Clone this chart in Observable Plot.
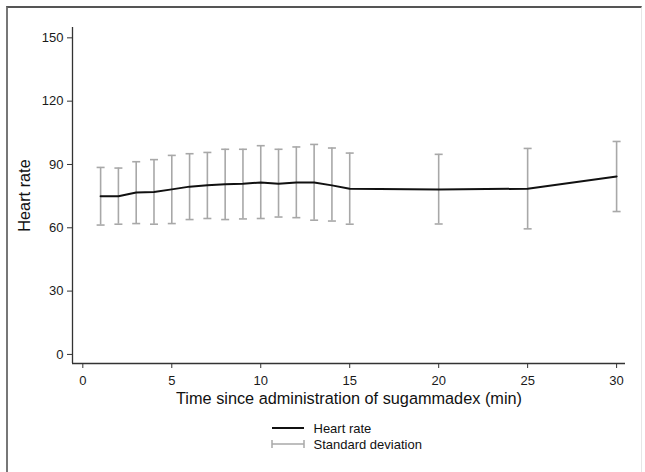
<!DOCTYPE html>
<html>
<head>
<meta charset="utf-8">
<script src="https://cdn.jsdelivr.net/npm/d3@7"></script>
<script src="https://cdn.jsdelivr.net/npm/@observablehq/plot@0.6"></script>
<style>
  html, body { margin: 0; padding: 0; background: #fff; }
  #wrap { position: relative; width: 645px; height: 472px; overflow: hidden; font-family: "Liberation Sans", Arial, sans-serif; }
  #border { position: absolute; left: 6px; top: 6px; width: 636px; height: 470px; border-top: 2px solid #555; border-left: 2px solid #777; border-right: 1px solid #e6e6e6; box-sizing: border-box; }
  #chart { position: absolute; left: 0; top: 0; }
  #legend { position: absolute; left: 0; top: 0; }
</style>
</head>
<body>
<div id="wrap">
  <div id="border"></div>
  <div id="chart"></div>
  <svg id="legend" width="645" height="472"></svg>
</div>
<script>
// Time since administration of sugammadex (min)
const times = [1, 2, 3, 4, 5, 6, 7, 8, 9, 10, 11, 12, 13, 14, 15, 20, 25, 30];
// Mean heart rate
const heartRate = [74.9, 74.9, 76.7, 77.0, 78.2, 79.5, 80.1, 80.6, 80.9, 81.5, 80.9, 81.5, 81.5, 80.1, 78.5, 78.2, 78.5, 84.3];
// Standard deviation band ends (mean - SD, mean + SD)
const sdLower = [61.3, 61.7, 62.0, 61.7, 62.0, 63.9, 64.4, 63.9, 64.2, 64.4, 65.1, 64.8, 63.6, 63.2, 61.7, 61.8, 59.5, 67.7];
const sdUpper = [88.6, 88.3, 91.3, 92.3, 94.3, 95.1, 95.7, 97.2, 97.2, 98.9, 97.2, 98.3, 99.5, 97.8, 95.4, 94.8, 97.6, 100.9];
const xTicks = [0, 5, 10, 15, 20, 25, 30];
const yTicks = [0, 30, 60, 90, 120, 150];
const xTitle = "Time since administration of sugammadex (min)";
const yTitle = "Heart rate";
const legendLabels = ["Heart rate", "Standard deviation"];

const data = times.map((t, i) => ({t, hr: heartRate[i], lo: sdLower[i], hi: sdUpper[i]}));

const capSymbol = {
  draw(context) {
    context.moveTo(-4, 0);
    context.lineTo(4, 0);
  }
};

const axisColor = "#333";
const sdColor = "#a8a8a8";
const font = "'Liberation Sans', Arial, sans-serif";

const plot = Plot.plot({
  width: 645,
  height: 472,
  marginLeft: 72,
  marginRight: 20,
  marginTop: 27,
  marginBottom: 109,
  style: { fontFamily: font, background: "transparent", color: "#222" },
  x: { domain: [-0.58, 30.5] },
  y: { domain: [-4.3, 154.9] },
  marks: [
    Plot.ruleX([-0.58], { stroke: axisColor, strokeWidth: 1.3 }),
    Plot.ruleY([-4.3], { stroke: axisColor, strokeWidth: 1.3 }),
    Plot.axisX({
      ticks: xTicks, tickSize: 5, tickPadding: 7, fontSize: 13,
      stroke: axisColor, fill: "#1a1a1a",
      label: xTitle, labelAnchor: "center", labelArrow: "none", labelOffset: 40
    }),
    Plot.axisY({
      ticks: yTicks, tickSize: 5, tickPadding: 4, fontSize: 13,
      stroke: axisColor, fill: "#1a1a1a",
      label: yTitle, labelAnchor: "center", labelArrow: "none", labelOffset: 54
    }),
    Plot.ruleX(data, { x: "t", y1: "lo", y2: "hi", stroke: sdColor, strokeWidth: 1.6 }),
    Plot.dot(data, { x: "t", y: "lo", symbol: capSymbol, stroke: sdColor, strokeWidth: 1.6, fill: "none" }),
    Plot.dot(data, { x: "t", y: "hi", symbol: capSymbol, stroke: sdColor, strokeWidth: 1.6, fill: "none" }),
    Plot.line(data, { x: "t", y: "hr", stroke: "#111", strokeWidth: 2 })
  ]
});
document.getElementById("chart").appendChild(plot);

// axis title size
d3.select(plot).selectAll("g[aria-label='x-axis label'], g[aria-label='y-axis label']")
  .attr("font-size", 16.3).attr("fill", "#111");

// Legend
const lg = d3.select("#legend");
const rows = [428, 444];
lg.append("line").attr("x1", 272).attr("x2", 304).attr("y1", rows[0]).attr("y2", rows[0])
  .attr("stroke", "#111").attr("stroke-width", 2);
lg.append("line").attr("x1", 272).attr("x2", 304).attr("y1", rows[1]).attr("y2", rows[1])
  .attr("stroke", sdColor).attr("stroke-width", 1.5);
[272, 304].forEach(x => lg.append("line").attr("x1", x).attr("x2", x).attr("y1", rows[1] - 4).attr("y2", rows[1] + 4)
  .attr("stroke", sdColor).attr("stroke-width", 1.5));
legendLabels.forEach((s, i) => lg.append("text").attr("x", 313.5).attr("y", rows[i]).attr("dy", "0.35em")
  .attr("font-family", font).attr("font-size", 13).attr("fill", "#111").text(s));
</script>
</body>
</html>
